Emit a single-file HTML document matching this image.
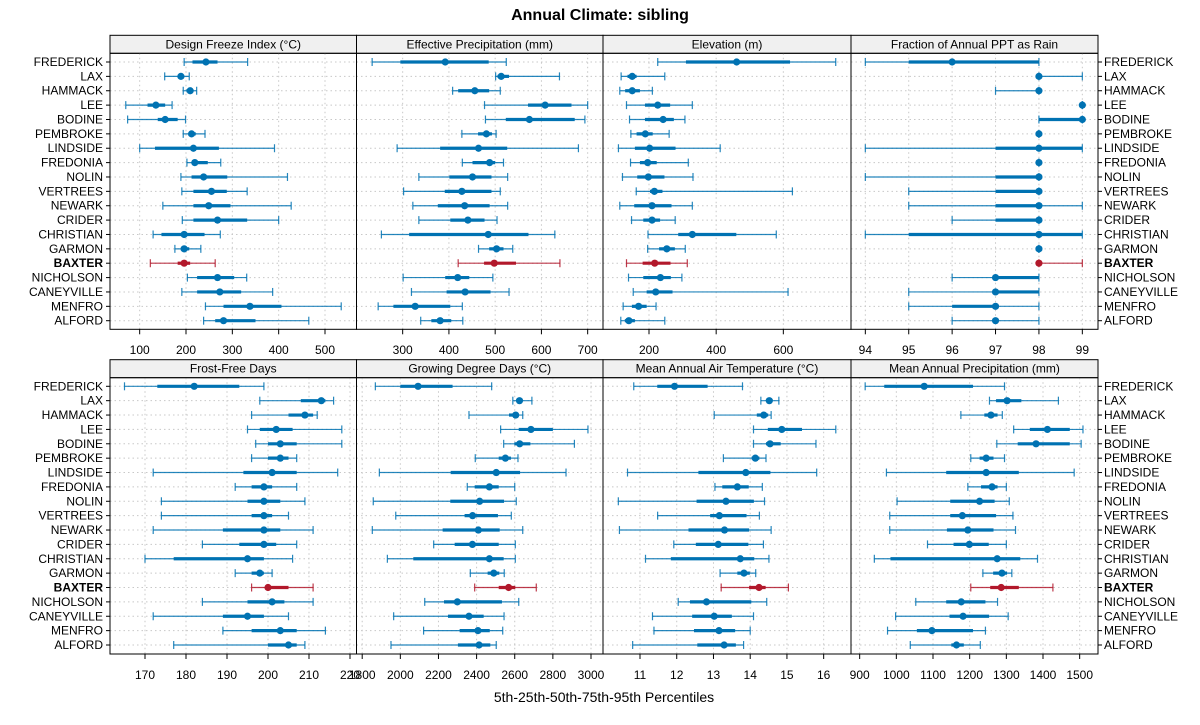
<!DOCTYPE html>
<html><head><meta charset="utf-8"><style>
html,body{margin:0;padding:0;background:#fff;}
svg{display:block;font-family:"Liberation Sans",sans-serif;}
</style></head><body>
<svg id="chart" width="1200" height="725" viewBox="0 0 1200 725" xmlns="http://www.w3.org/2000/svg">
<text x="600" y="20" text-anchor="middle" font-size="16" font-weight="bold">Annual Climate: sibling</text>
<text x="604" y="702" text-anchor="middle" font-size="14">5th-25th-50th-75th-95th Percentiles</text>
</svg>
<script>
const soils = ["FREDERICK","LAX","HAMMACK","LEE","BODINE","PEMBROKE","LINDSIDE","FREDONIA","NOLIN","VERTREES","NEWARK","CRIDER","CHRISTIAN","GARMON","BAXTER","NICHOLSON","CANEYVILLE","MENFRO","ALFORD"];
const panelTitles = ["Design Freeze Index (°C)","Effective Precipitation (mm)","Elevation (m)","Fraction of Annual PPT as Rain","Frost-Free Days","Growing Degree Days (°C)","Mean Annual Air Temperature (°C)","Mean Annual Precipitation (mm)"];
const dfi = [[196,214,243,268,333],[154,182,189,196,207],[194,201,209,216,223],[70,117,135,155,170],[74,139,155,182,199],[194,206,212,221,241],[100,133,216,271,391],[202,212,219,247,275],[189,212,238,289,419],[191,216,255,288,332],[150,216,249,296,427],[192,216,268,332,400],[129,147,196,240,274],[176,189,196,207,232],[123,182,196,209,263],[203,224,268,304,331],[191,224,273,319,387],[242,281,338,406,535],[238,263,281,350,465]];
const effPpt = [[234,295,392,486,524],[501,505,513,530,639],[408,420,456,487,511],[477,571,608,665,700],[479,523,574,672,694],[428,463,481,493,502],[288,381,464,526,680],[429,451,488,500,518],[335,401,451,492,527],[302,391,428,492,511],[322,376,434,488,527],[335,403,441,477,504],[254,314,485,572,629],[464,487,503,518,538],[420,476,498,545,640],[301,392,419,444,495],[319,395,435,490,530],[247,280,327,403,429],[339,362,381,405,430]];
const elev = [[226,310,461,620,756],[117,136,150,163,247],[113,129,150,173,210],[133,188,226,263,329],[142,188,242,274,307],[146,163,189,211,260],[109,158,202,279,412],[145,173,196,223,317],[121,165,198,246,331],[162,203,216,240,627],[113,156,209,267,329],[148,183,209,233,278],[197,287,329,460,579],[196,230,253,277,308],[133,181,217,264,314],[139,183,234,265,298],[153,193,220,270,614],[123,149,169,193,221],[116,128,140,158,247]];
const fracRain = [[94,95,96,98,98],[98,98,98,98,99],[97,98,98,98,98],[99,99,99,99,99],[98,98,99,99,99],[98,98,98,98,98],[94,97,98,99,99],[98,98,98,98,98],[94,97,98,98,98],[95,97,98,98,98],[95,97,98,98,99],[96,97,98,98,98],[94,95,98,99,99],[98,98,98,98,98],[98,98,98,98,99],[96,97,97,98,98],[95,97,97,98,98],[95,96,97,97,98],[96,97,97,97,98]];
const ffd = [[165,173,182,193,199],[198,208,213,214,216],[196,205,209,211,212],[195,198,202,206,218],[197,200,203,207,218],[196,200,203,205,207],[172,194,201,207,217],[192,196,199,201,207],[174,195,199,203,209],[174,196,199,201,205],[172,189,199,203,211],[184,193,199,202,207],[170,177,195,199,206],[192,196,198,199,201],[196,200,200,205,211],[184,195,201,204,211],[172,189,195,199,205],[189,196,203,207,214],[177,200,205,207,209]];
const gdd = [[1869,2000,2093,2274,2479],[2590,2610,2625,2640,2690],[2360,2570,2605,2620,2642],[2526,2621,2685,2800,2984],[2542,2598,2626,2682,2913],[2393,2516,2551,2580,2617],[1890,2264,2503,2628,2869],[2351,2390,2467,2516,2600],[1858,2262,2416,2544,2608],[1976,2337,2379,2512,2582],[1853,2222,2409,2521,2642],[2175,2285,2378,2516,2603],[1932,2068,2467,2542,2603],[2367,2458,2490,2519,2545],[2390,2516,2568,2603,2713],[2128,2229,2299,2533,2621],[1965,2250,2360,2437,2544],[2122,2311,2407,2469,2537],[1951,2302,2413,2472,2503]];
const maat = [[10.83,11.47,11.94,12.84,13.79],[14.29,14.45,14.52,14.61,14.78],[13.02,14.18,14.37,14.49,14.57],[14.09,14.48,14.86,15.41,16.33],[14.09,14.43,14.54,14.83,15.79],[13.27,14.04,14.14,14.25,14.43],[10.66,12.59,13.88,14.55,15.81],[13.04,13.24,13.65,13.96,14.33],[10.41,12.54,13.34,14.10,14.39],[11.48,12.91,13.16,13.90,14.25],[10.44,12.32,13.30,13.97,14.57],[11.92,12.52,13.13,13.95,14.36],[11.15,11.84,13.73,14.11,14.51],[13.18,13.65,13.83,13.99,14.15],[13.21,13.97,14.24,14.42,15.04],[12.04,12.36,12.81,14.03,14.45],[11.34,12.42,13.02,13.50,14.09],[11.38,12.47,13.15,13.59,14.00],[10.80,12.56,13.29,13.61,13.82]];
const map = [[915,967,1076,1209,1295],[1254,1272,1302,1341,1442],[1176,1240,1258,1276,1289],[1320,1364,1412,1473,1509],[1274,1331,1381,1473,1504],[1203,1227,1245,1265,1295],[973,1136,1245,1334,1485],[1195,1231,1261,1276,1300],[1002,1147,1227,1268,1308],[982,1147,1180,1272,1318],[982,1138,1195,1265,1325],[1085,1156,1199,1252,1300],[940,984,1275,1338,1385],[1236,1264,1288,1302,1315],[1203,1256,1286,1334,1427],[1053,1136,1177,1243,1276],[998,1145,1182,1253,1305],[976,1056,1097,1209,1243],[1038,1150,1164,1184,1229]];
const ticksDfi = [100,200,300,400,500];
const ticksEff = [300,400,500,600,700];
const ticksElev = [200,400,600];
const ticksFrac = [94,95,96,97,98,99];
const ticksFfd = [170,180,190,200,210,220];
const ticksGdd = [1800,2000,2200,2400,2600,2800,3000];
const ticksMaat = [11,12,13,14,15,16];
const ticksMap = [900,1000,1100,1200,1300,1400,1500];
const highlight = "BAXTER";

const NS = "http://www.w3.org/2000/svg";
const svg = document.getElementById("chart");
function mk(tag, attrs, parent){ const e=document.createElementNS(NS,tag); for(const k in attrs) e.setAttribute(k,attrs[k]); (parent||svg).appendChild(e); return e; }

const colX = [110,356.5,603,851,1098];
const rows = [{strip:35.3, top:53.3, bottom:329.3, first:62, last:320.7, tickY:354},
              {strip:359.7, top:377.7, bottom:654, first:386.3, last:645, tickY:679}];
const anchors = [[100,139.67,500,325],[300,402.67,700,587.67],[200,649,600,783.33],[94,865.33,99,1082.33],
                 [170,145,210,309],[2000,400.33,3000,591],[11,640,16,823.67],[900,859.67,1500,1079.67]];
const datasets = [dfi,effPpt,elev,fracRain,ffd,gdd,maat,map];
const tickSets = [ticksDfi,ticksEff,ticksElev,ticksFrac,ticksFfd,ticksGdd,ticksMaat,ticksMap];
const n = soils.length;

for(let p=0;p<8;p++){
  const r = rows[Math.floor(p/4)], c = p%4;
  const x0 = colX[c], x1 = colX[c+1];
  const a = anchors[p];
  const sx = v => a[1] + (v-a[0])*(a[3]-a[1])/(a[2]-a[0]);
  const sy = i => r.first + i*(r.last-r.first)/(n-1);
  const g = mk("g",{});
  
  
  const strip = mk("rect",{x:x0,y:r.strip,width:x1-x0,height:r.top-r.strip,fill:"#f0f0f0",stroke:"#000","stroke-width":1},g);
  
  
  const st = mk("text",{x:(x0+x1)/2,y:r.top-5,"text-anchor":"middle","font-size":12},g);
  st.textContent = panelTitles[p];
  
  
  for(let i=0;i<n;i++){
    const gl = mk("line",{x1:x0,x2:x1,y1:sy(i),y2:sy(i),stroke:"#c8c8c8","stroke-dasharray":"1.5,3","stroke-width":1},g);
    
    
  }
  tickSets[p].forEach(t=>{
    const x = sx(t);
    if(x>x0 && x<x1){
      const vl = mk("line",{x1:x,x2:x,y1:r.top,y2:r.bottom,stroke:"#c8c8c8","stroke-dasharray":"1.5,3","stroke-width":1},g);
      
      
    }
    const tk = mk("line",{x1:x,x2:x,y1:r.bottom,y2:r.bottom+5,stroke:"#000"},g);
    
    
    const tl = mk("text",{x:x,y:r.tickY,"text-anchor":"middle","font-size":12},g);
    tl.textContent = t;
    
    
  });
  const ds = datasets[p];
  for(let i=0;i<n;i++){
    const d = ds[i], y = sy(i);
    const hi = soils[i]===highlight;
    const col = hi ? "#b2182b" : "#0072b2";
    const s = mk("g",{},g);
    
    
    mk("line",{x1:sx(d[0]),x2:sx(d[4]),y1:y,y2:y,stroke:col,"stroke-width":1.2,"stroke-opacity":0.85},s);
    mk("line",{x1:sx(d[0]),x2:sx(d[0]),y1:y-4,y2:y+4,stroke:col,"stroke-width":1.2,"stroke-opacity":0.85},s);
    mk("line",{x1:sx(d[4]),x2:sx(d[4]),y1:y-4,y2:y+4,stroke:col,"stroke-width":1.2,"stroke-opacity":0.85},s);
    mk("line",{x1:sx(d[1]),x2:sx(d[3]),y1:y,y2:y,stroke:col,"stroke-width":3.2},s);
    mk("circle",{cx:sx(d[2]),cy:y,r:3.6,fill:col},s);
  }
  const frame = mk("rect",{x:x0,y:r.top,width:x1-x0,height:r.bottom-r.top,fill:"none",stroke:"#000","stroke-width":1},g);
  
  
}
rows.forEach((r,ri)=>{
  for(let i=0;i<n;i++){
    const y = r.first + i*(r.last-r.first)/(n-1);
    const bold = soils[i]===highlight ? "bold" : "normal";
    const lt = mk("line",{x1:106,x2:110,y1:y,y2:y,stroke:"#000"});
    
    
    const rt = mk("line",{x1:1098,x2:1102,y1:y,y2:y,stroke:"#000"});
    
    
    const l = mk("text",{x:103,y:y+4,"text-anchor":"end","font-size":12,"font-weight":bold});
    l.textContent = soils[i];
    
    
    const rl = mk("text",{x:1104,y:y+4,"text-anchor":"start","font-size":12,"font-weight":bold});
    rl.textContent = soils[i];
    
    
  }
});
</script>
</body></html>
